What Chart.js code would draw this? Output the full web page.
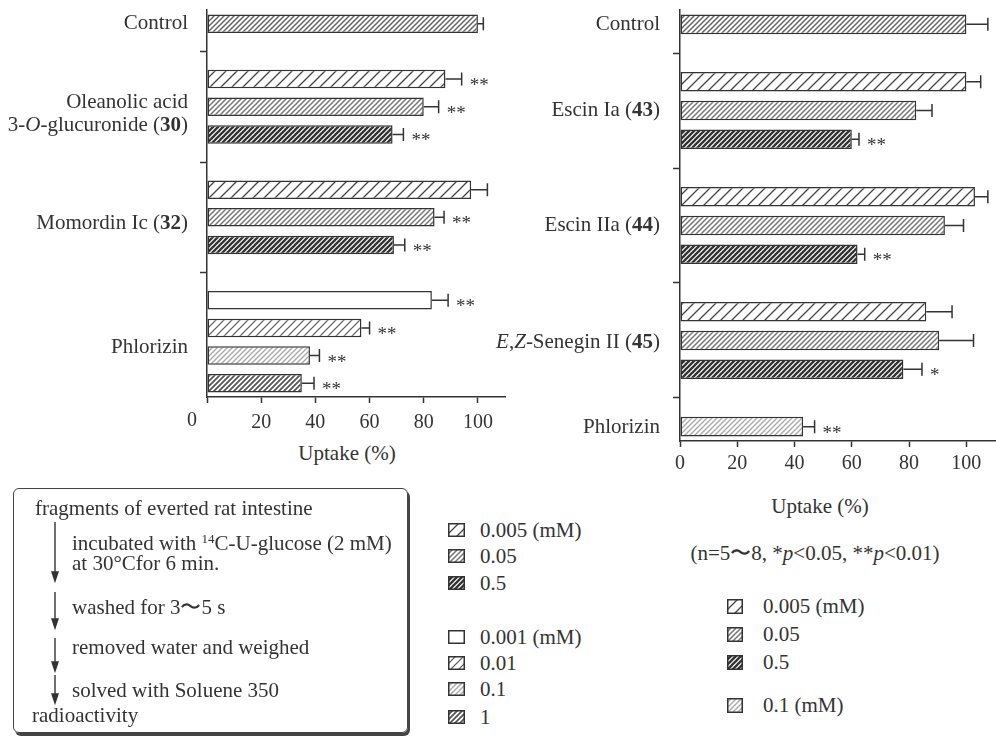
<!DOCTYPE html>
<html>
<head>
<meta charset="utf-8">
<script src="https://cdn.jsdelivr.net/npm/chart.js@4"></script>
<style>
  body { margin: 0; background: #fff; width: 996px; height: 737px; overflow: hidden; position: relative;
         font-family: "Liberation Serif", "Times New Roman", serif; color: #333; }
  canvas { position: absolute; }
  .t { position: absolute; font-size: 21px; line-height: 24px; white-space: nowrap; }
  .flow { position: absolute; left: 13px; top: 488px; width: 393px; height: 243px;
          border: 1.5px solid #444; border-radius: 6px; box-shadow: 2px 3px 0 #444; }
  .sw { position: absolute; }
  sup { font-size: 13px; vertical-align: 7px; line-height: 0; }
</style>
</head>
<body>
<canvas id="left" width="515" height="440" style="left:0;top:0"></canvas>
<canvas id="right" width="516" height="480" style="left:480px;top:0"></canvas>

<div class="t" style="left:347px;top:441px;transform:translateX(-50%)">Uptake (%)</div>
<div class="t" style="left:820px;top:494px;transform:translateX(-50%)">Uptake (%)</div>
<div class="t" style="left:815px;top:541px;transform:translateX(-50%)">(n=5〜8, *<i>p</i>&lt;0.05, **<i>p</i>&lt;0.01)</div>

<div class="flow"></div>
<svg style="position:absolute;left:0;top:0" width="420" height="737">
  <g stroke="#333" stroke-width="1.4" fill="#333">
    <line x1="55" y1="522" x2="55" y2="574"/><path d="M52 572 L58 572 L55 581 Z"/>
    <line x1="55" y1="592" x2="55" y2="621"/><path d="M52 619 L58 619 L55 628 Z"/>
    <line x1="55" y1="638" x2="55" y2="664"/><path d="M52 662 L58 662 L55 671 Z"/>
    <line x1="55" y1="675" x2="55" y2="696"/><path d="M52 694 L58 694 L55 703 Z"/>
  </g>
</svg>
<div class="t" style="left:35px;top:496px">fragments of everted rat intestine</div>
<div class="t" style="left:72px;top:531px">incubated with <sup>14</sup>C-U-glucose (2 mM)</div>
<div class="t" style="left:72px;top:551px">at 30°Cfor 6 min.</div>
<div class="t" style="left:72px;top:595px">washed for 3〜5 s</div>
<div class="t" style="left:72px;top:635px">removed water and weighed</div>
<div class="t" style="left:72px;top:678px">solved with Soluene 350</div>
<div class="t" style="left:32px;top:703px">radioactivity</div>

<div id="legends"></div>

<script>
// ---- data ----
const leftGroups = ["Control", "Oleanolic acid\n3-<i>O</i>-glucuronide (<b>30</b>)", "Momordin Ic (<b>32</b>)", "Phlorizin"];
const leftValues = [[100], [88, 80, 68.5], [97.5, 84, 69], [83, 57, 38, 35]];
const leftErrors = [[2], [6, 5.5, 4], [6, 3.5, 4], [6, 3, 3.5, 4.5]];
const leftStars = [[""], ["**", "**", "**"], ["", "**", "**"], ["**", "**", "**", "**"]];
const leftDoses = [["ctrl"], ["0.005", "0.05", "0.5"], ["0.005", "0.05", "0.5"], ["0.001", "0.01", "0.1", "1"]];

const rightGroups = ["Control", "Escin Ia (<b>43</b>)", "Escin IIa (<b>44</b>)", "<i>E</i>,<i>Z</i>-Senegin II (<b>45</b>)", "Phlorizin"];
const rightValues = [[100], [100, 82.5, 60], [103, 92.5, 62], [86, 90.5, 78], [43]];
const rightErrors = [[7.5], [5, 5.5, 2.5], [4.5, 6.5, 2.5], [9, 12, 6.5], [4]];
const rightStars = [[""], ["", "", "**"], ["", "", "**"], ["", "", "*"], ["**"]];
const rightDoses = [["ctrl"], ["0.005", "0.05", "0.5"], ["0.005", "0.05", "0.5"], ["0.005", "0.05", "0.5"], ["0.1r"]];

const xTicks = [0, 20, 40, 60, 80, 100];

const legendMid = [["0.005", "0.005 (mM)"], ["0.05", "0.05"], ["0.5", "0.5"], ["0.001", "0.001 (mM)"], ["0.01", "0.01"], ["0.1", "0.1"], ["1", "1"]];
const legendRight = [["0.005", "0.005 (mM)"], ["0.05", "0.05"], ["0.5", "0.5"], ["0.1r", "0.1 (mM)"]];

const FONT = '"Liberation Serif", "Times New Roman", serif';
const INK = '#333';

function hatch(gap, color, lw) {
  const c = document.createElement('canvas');
  c.width = c.height = gap;
  const g = c.getContext('2d');
  g.fillStyle = '#fff';
  g.fillRect(0, 0, gap, gap);
  g.strokeStyle = color;
  g.lineWidth = lw;
  g.beginPath();
  g.moveTo(-1, gap + 1); g.lineTo(gap + 1, -1);
  g.moveTo(-2, 2); g.lineTo(2, -2);
  g.moveTo(gap - 2, gap + 2); g.lineTo(gap + 2, gap - 2);
  g.stroke();
  return g.createPattern(c, 'repeat');
}

const hatchOf = {
  ctrl: hatch(5, '#666', 1.5),
  '0.005': hatch(11, '#444', 1.3),
  '0.05': hatch(5, '#777', 1.5),
  '0.5': hatch(5, '#333', 2.3),
  '0.001': '#fff',
  '0.01': hatch(8, '#555', 1.2),
  '0.1': hatch(5, '#aaa', 1.4),
  '0.1r': hatch(5, '#aaa', 1.4),
  '1': hatch(5, '#555', 1.8),
};

function drawRich(ctx, str, xRight, y, size) {
  const parts = [];
  let it = false, bd = false;
  str.split(/(<\/?[ib]>)/).forEach(tok => {
    if (tok === '<i>') it = true;
    else if (tok === '</i>') it = false;
    else if (tok === '<b>') bd = true;
    else if (tok === '</b>') bd = false;
    else if (tok) parts.push({ t: tok, f: (it ? 'italic ' : '') + (bd ? 'bold ' : '') + size + 'px ' + FONT });
  });
  let w = 0;
  parts.forEach(p => { ctx.font = p.f; p.w = ctx.measureText(p.t).width; w += p.w; });
  let x = xRight - w;
  ctx.textAlign = 'left';
  ctx.textBaseline = 'middle';
  parts.forEach(p => { ctx.font = p.f; ctx.fillText(p.t, x, y); x += p.w; });
}

function makeChart(id, groups, values, errors, stars, doses, o) {
  // flatten groups into slots, a blank slot between groups
  const vals = [], errs = [], star = [], dose = [], blank = [], centers = [];
  groups.forEach((g, gi) => {
    if (gi > 0) { vals.push(null); errs.push(0); star.push(''); dose.push(null); blank.push(true); }
    const first = vals.length;
    values[gi].forEach((v, i) => {
      vals.push(v); errs.push(errors[gi][i]); star.push(stars[gi][i]); dose.push(doses[gi][i]); blank.push(false);
    });
    centers.push((first + vals.length - 1) / 2);
  });

  const extras = {
    id: 'extras',
    afterDatasetsDraw(chart) {
      const ctx = chart.ctx, xs = chart.scales.x;
      ctx.save();
      ctx.strokeStyle = INK;
      ctx.fillStyle = INK;
      ctx.lineWidth = 1.5;
      chart.getDatasetMeta(0).data.forEach((bar, i) => {
        if (vals[i] == null) return;
        const xe = xs.getPixelForValue(vals[i] + errs[i]);
        ctx.beginPath();
        ctx.moveTo(bar.x, bar.y); ctx.lineTo(xe, bar.y);
        ctx.moveTo(xe, bar.y - 6.5); ctx.lineTo(xe, bar.y + 6.5);
        ctx.stroke();
        if (star[i]) {
          ctx.font = '19px ' + FONT;
          ctx.textAlign = 'left';
          ctx.textBaseline = 'alphabetic';
          ctx.fillText(star[i], xe + 8, bar.y + 12);
        }
      });
      ctx.restore();
    },
    afterDraw(chart) {
      const ctx = chart.ctx, ys = chart.scales.y, xs = chart.scales.x;
      ctx.save();
      ctx.fillStyle = INK;
      groups.forEach((g, gi) => {
        const lines = g.split('\n');
        const yc = ys.getPixelForValue(centers[gi]) + o.labelDy[gi];
        lines.forEach((ln, li) => {
          drawRich(ctx, ln, xs.left - o.labelGap, yc + (li - (lines.length - 1) / 2) * 23, 21);
        });
      });
      if (o.zeroShift) {
        ctx.font = '20px ' + FONT;
        ctx.textAlign = 'center';
        ctx.textBaseline = 'middle';
        ctx.fillText('0', xs.getPixelForValue(0) - o.zeroShift, xs.top + 24);
      }
      ctx.restore();
    }
  };

  return new Chart(document.getElementById(id), {
    type: 'bar',
    data: {
      labels: vals.map((v, i) => String(i)),
      datasets: [{
        data: vals,
        backgroundColor: dose.map(d => d ? hatchOf[d] : 'rgba(0,0,0,0)'),
        borderColor: INK,
        borderWidth: 1.5,
        borderSkipped: false,
        barPercentage: o.barPct,
        categoryPercentage: 1
      }]
    },
    options: {
      indexAxis: 'y',
      responsive: false,
      animation: false,
      devicePixelRatio: 1,
      layout: { padding: { top: 10, right: o.padRight, left: 0, bottom: 0 } },
      plugins: { legend: { display: false }, tooltip: { enabled: false } },
      scales: {
        x: {
          min: 0, max: 110,
          afterBuildTicks: s => { s.ticks = xTicks.map(v => ({ value: v })); },
          afterFit: s => { s.height = o.xHeight; },
          ticks: {
            color: INK, padding: o.tickPad, maxRotation: 0,
            font: { family: FONT, size: 20 },
            callback: v => (o.zeroShift && v === 0) ? '' : String(v)
          },
          grid: { drawOnChartArea: false, tickLength: 6, tickColor: INK, tickWidth: 1.5 },
          border: { color: INK, width: 1.5 }
        },
        y: {
          offset: true,
          afterFit: s => { s.width = o.yWidth; },
          ticks: { display: false },
          grid: {
            offset: false, drawOnChartArea: false, tickLength: 7, tickWidth: 1.5,
            tickColor: ctx => blank[ctx.index] ? INK : 'rgba(0,0,0,0)'
          },
          border: { color: INK, width: 1.5 }
        }
      }
    },
    plugins: [extras]
  });
}

makeChart('left', leftGroups, leftValues, leftErrors, leftStars, leftDoses,
  { barPct: 0.67, padRight: 10, xHeight: 43, yWidth: 207, tickPad: 8, labelGap: 19, labelDy: [0, 7, 6, 6], zeroShift: 15 });
makeChart('right', rightGroups, rightValues, rightErrors, rightStars, rightDoses,
  { barPct: 0.68, padRight: 1, xHeight: 39, yWidth: 200, tickPad: 5, labelGap: 20, labelDy: [0, 0, 0, 2, 1], zeroShift: 0 });

// ---- legends ----
function legend(items, x, textX, ys, w, h) {
  const host = document.getElementById('legends');
  items.forEach(([key, label], i) => {
    const c = document.createElement('canvas');
    c.width = w; c.height = h;
    c.className = 'sw';
    c.style.left = x + 'px';
    c.style.top = (ys[i] - h / 2) + 'px';
    const g = c.getContext('2d');
    g.fillStyle = hatchOf[key];
    g.fillRect(0, 0, w, h);
    g.strokeStyle = INK;
    g.lineWidth = 1.5;
    g.strokeRect(0.75, 0.75, w - 1.5, h - 1.5);
    host.appendChild(c);
    const t = document.createElement('div');
    t.className = 't';
    t.style.left = textX + 'px';
    t.style.top = (ys[i] - 12) + 'px';
    t.textContent = label;
    host.appendChild(t);
  });
}
legend(legendMid, 448, 480, [530, 556, 583, 637, 663, 689, 717], 17, 14);
legend(legendRight, 727, 763, [606, 634, 662, 705], 16, 15);
</script>
</body>
</html>
